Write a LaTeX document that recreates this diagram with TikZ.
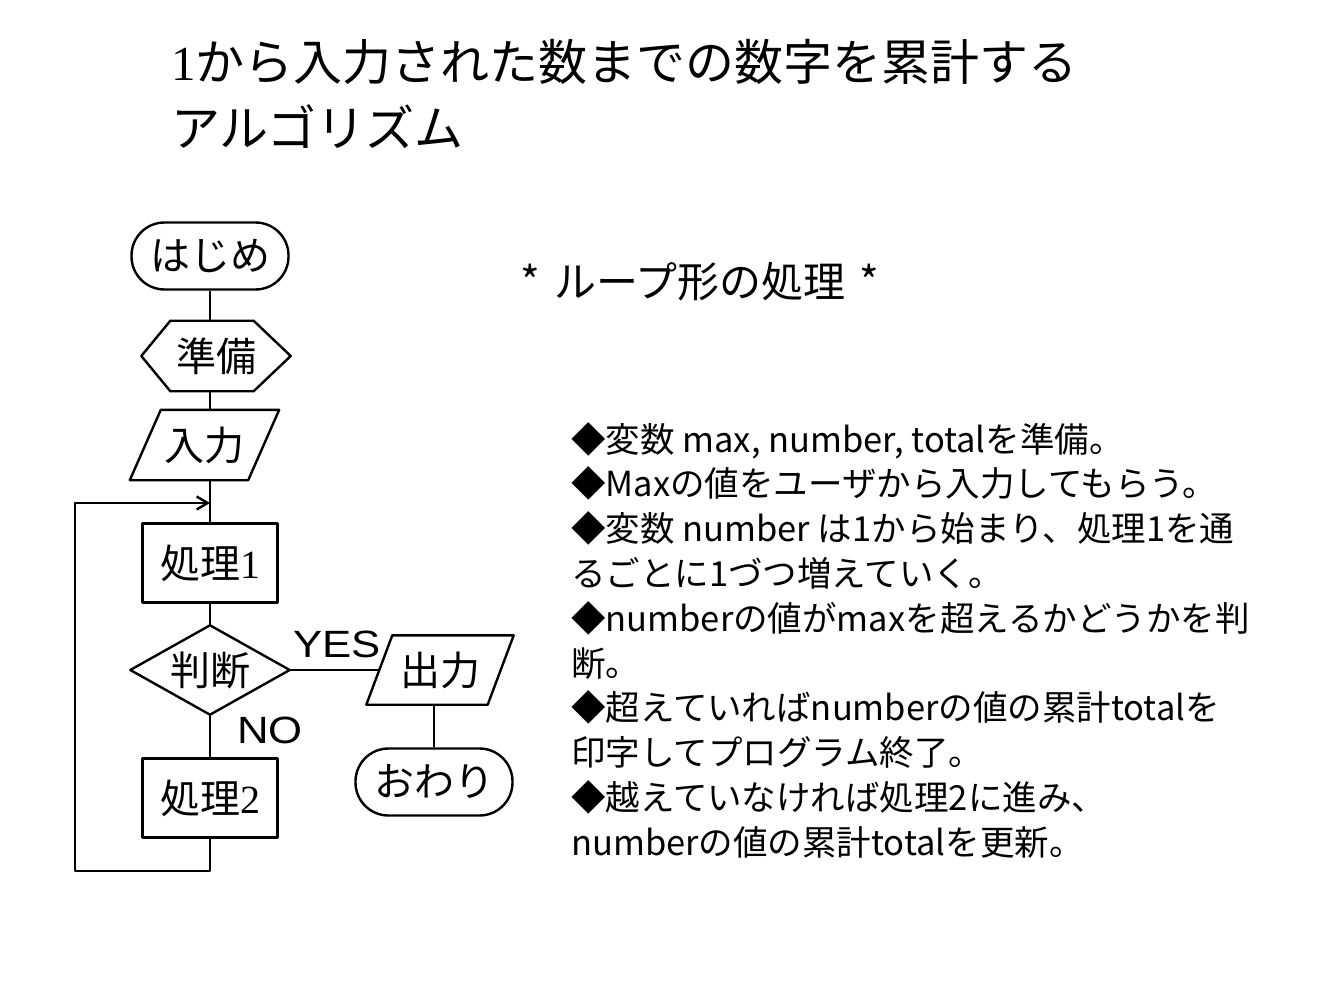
\documentclass[tikz,border=0pt]{standalone}
\usepackage{fontspec}
\setmainfont{Liberation Serif}
\newfontfamily\jp{Noto Sans CJK JP}
\newfontfamily\yesno[FakeStretch=1.15]{Liberation Sans}
\usetikzlibrary{arrows.meta}

\begin{document}
\begin{tikzpicture}[
    x = 1pt, y = -1pt,
    line width = 2.4pt,
    line join = round,
    label/.style = {inner sep=0pt, font=\fontsize{40}{40}\selectfont\jp},
    term/.style = {label, draw, rounded corners=33pt, minimum width=157pt, minimum height=67pt},
    proc/.style = {label, draw, minimum width=135pt, minimum height=79pt},
    answer/.style = {inner sep=0pt, font=\fontsize{38}{38}\selectfont\yesno}
]

\useasboundingbox (0,0) rectangle (1344,1008);

% title
\node[anchor=west, inner sep=0pt, font=\fontsize{49}{49}\selectfont\jp] (title1) at (170,62) {{\rmfamily 1}から入力された数までの数字を累計する};
\node[anchor=west, inner sep=0pt, font=\fontsize{49}{49}\selectfont\jp] (title2) at (170,127) {アルゴリズム};

% flow chart
\node[term] (start) at (210,256) {はじめ};
\node[label, minimum width=147pt, minimum height=68pt] (prep) at (216,356) {準備};
\node[label, minimum width=147pt, minimum height=68pt] (input) at (204.5,445) {入力};
\node[proc] (proc1) at (210,563) {処理{\rmfamily 1}};
\node[label, minimum width=157pt, minimum height=87pt] (judge) at (210,670) {判断};
\node[proc] (proc2) at (210,798) {処理{\rmfamily 2}};
\node[label, minimum width=145pt, minimum height=67pt] (output) at (440,670) {出力};
\node[term] (end) at (434,782) {おわり};

\draw (prep.west) -- ([xshift=29pt]prep.north west) -- ([xshift=-37pt]prep.north east) -- (prep.east) -- ([xshift=-37pt]prep.south east) -- ([xshift=29pt]prep.south west) -- cycle;
\draw ([xshift=31pt]input.north west) -- (input.north east) -- ([xshift=-31pt]input.south east) -- (input.south west) -- cycle;
\draw (judge.west) -- (judge.north) -- (judge.east) -- (judge.south) -- cycle;
\draw ([xshift=26pt]output.north west) -- (output.north east) -- ([xshift=-26pt]output.south east) -- (output.south west) -- cycle;

\coordinate (back) at (75,871);
\coordinate (join) at (210,503);

\draw (start.south) -- (start.south |- prep.north);
\draw (start.south |- prep.south) -- (start.south |- input.north);
\draw (start.south |- input.south) -- (proc1.north);
\draw (proc1.south) -- (judge.north);
\draw (judge.south) -- (proc2.north);
\draw (judge.east) -- ([xshift=13pt]output.west);
\draw (end.north |- output.south) -- (end.north);
\draw[-{Straight Barb[length=11pt, width=13pt]}] (proc2.south) |- (back) |- (join);

\node[answer] (yes) at (337,644) {YES};
\node[answer] (no) at (270,730) {NO};

% notes
\node[inner sep=0pt, font=\fontsize{42}{42}\selectfont\jp] (loophead) at (700,282) {*\hspace{14pt}ループ形の処理\hspace{14pt}*};

\node[anchor=north west, inner sep=0pt, align=left, font=\fontsize{34.5}{44.8}\selectfont\jp] (notes) at (570,421) {%
◆変数 max, number, totalを準備。\\
◆Maxの値をユーザから入力してもらう。\\
◆変数 number は1から始まり、処理1を通\\
るごとに1づつ増えていく。\\
◆numberの値がmaxを超えるかどうかを判\\
断。\\
◆超えていればnumberの値の累計totalを\\
印字してプログラム終了。\\
◆越えていなければ処理2に進み、\\
numberの値の累計totalを更新。};

\end{tikzpicture}
\end{document}
